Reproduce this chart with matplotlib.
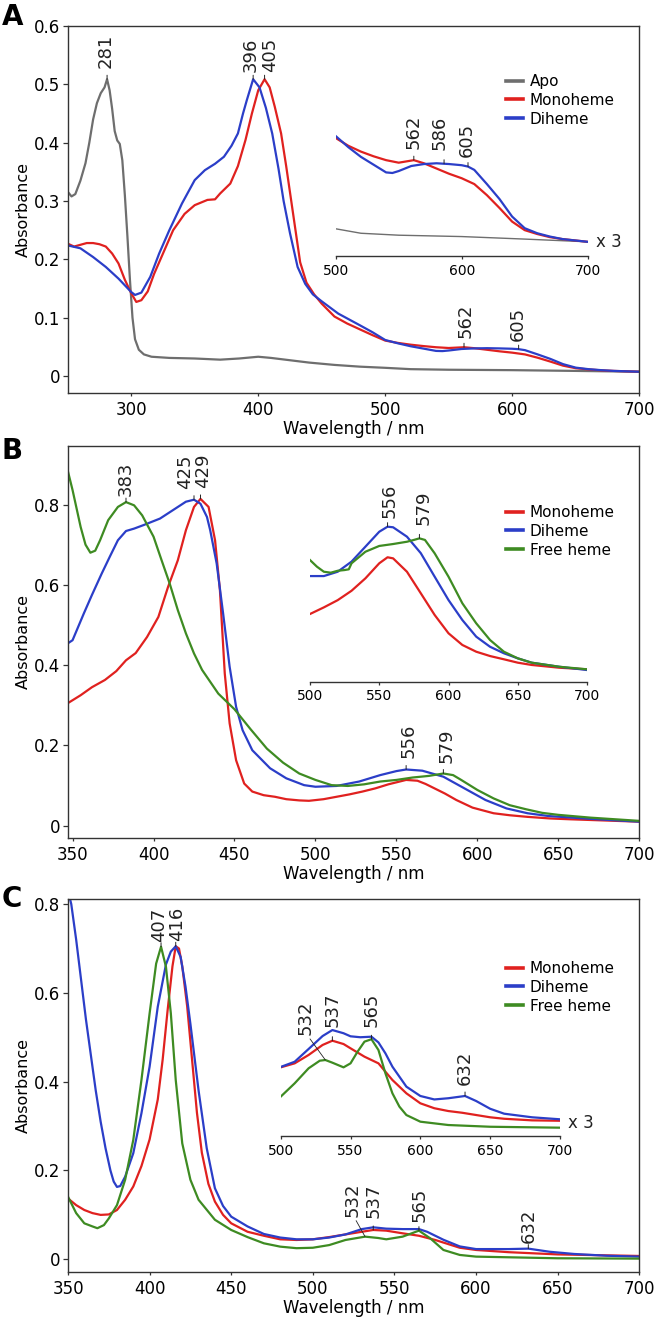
import numpy as np
import matplotlib
matplotlib.use('Agg')
import matplotlib.pyplot as plt

plt.rcParams['font.family'] = ['DejaVu Sans']

RED = '#E0211F'
BLUE = '#2B3EC8'
GREEN = '#3E8B22'
GRAY = '#6E6E6E'
INK = '#222222'

# ---- panel A: apo / monoheme / diheme ----
apo_a_nm = [250, 253, 256, 260, 264, 267, 270, 273, 276, 279, 281, 283, 285, 287, 289, 291, 293,
            295, 297, 299, 301, 303, 306, 310, 316, 330, 350, 370, 385, 400, 410, 425, 440, 460,
            480, 500, 520, 550, 600, 650, 700]
apo_a = [0.316, 0.308, 0.312, 0.335, 0.365, 0.40, 0.44, 0.468, 0.485, 0.495, 0.509, 0.49, 0.458,
         0.42, 0.404, 0.398, 0.37, 0.31, 0.24, 0.165, 0.10, 0.063, 0.045, 0.037, 0.033, 0.031,
         0.030, 0.028, 0.030, 0.033, 0.031, 0.027, 0.023, 0.019, 0.016, 0.014, 0.0117, 0.0107,
         0.010, 0.0087, 0.0073]

mono_a_nm = [250, 255, 260, 265, 270, 275, 280, 285, 290, 295, 300, 304, 308, 313, 318, 326, 333,
             342, 350, 360, 366, 370, 378, 384, 390, 395, 400, 405, 409, 413, 418, 422, 426, 429,
             433, 438, 444, 450, 460, 470, 480, 490, 500, 510, 520, 530, 540, 550, 562, 570, 580,
             590, 600, 610, 620, 630, 640, 650, 660, 670, 680, 690, 700]
mono_a = [0.227, 0.222, 0.225, 0.228, 0.228, 0.226, 0.222, 0.21, 0.193, 0.165, 0.142, 0.127, 0.13,
          0.145, 0.175, 0.215, 0.25, 0.278, 0.293, 0.302, 0.303, 0.313, 0.33, 0.36, 0.405, 0.45,
          0.49, 0.509, 0.495, 0.462, 0.416, 0.36, 0.30, 0.255, 0.195, 0.16, 0.14, 0.124, 0.102,
          0.090, 0.080, 0.070, 0.0607, 0.0567, 0.0537, 0.0513, 0.0493, 0.048, 0.0493, 0.0477,
          0.045, 0.0423, 0.040, 0.037, 0.0313, 0.0247, 0.0177, 0.0133, 0.0113, 0.0097, 0.0087,
          0.008, 0.0073]

di_a_nm = [250, 260, 270, 280, 290, 300, 303, 308, 315, 322, 330, 340, 350, 358, 366, 373, 379,
           384, 388, 391, 396, 401, 406, 411, 416, 420, 425, 431, 437, 443, 450, 463, 480, 490, 500,
           510, 520, 530, 540, 545, 550, 560, 570, 580, 590, 600, 605, 610, 620, 630, 640, 650, 660,
           670, 680, 690, 700]
di_a = [0.224, 0.219, 0.204, 0.187, 0.167, 0.144, 0.139, 0.143, 0.17, 0.21, 0.25, 0.296, 0.336,
        0.353, 0.364, 0.376, 0.395, 0.416, 0.45, 0.473, 0.509, 0.495, 0.46, 0.416, 0.355, 0.30,
        0.245, 0.187, 0.158, 0.14, 0.128, 0.107, 0.087, 0.075, 0.0617, 0.056, 0.051, 0.047, 0.043,
        0.0427, 0.0437, 0.0463, 0.0473, 0.0477, 0.0473, 0.0467, 0.046, 0.0443, 0.037, 0.0293,
        0.0203, 0.0143, 0.0117, 0.010, 0.0087, 0.008, 0.0073]

# ---- panel B: monoheme / diheme / free heme ----
mono_b_nm = [347, 355, 362, 370, 377, 383, 389, 396, 403, 409, 415, 420, 425, 429, 434, 438, 441,
             444, 447, 451, 456, 461, 468, 475, 482, 490, 496, 505, 513, 521, 529, 537, 545, 550,
             556, 563, 568, 573, 580, 587, 597, 610, 620, 631, 645, 657, 700]
mono_b = [0.305, 0.325, 0.345, 0.363, 0.385, 0.412, 0.43, 0.47, 0.52, 0.595, 0.661, 0.736, 0.794,
          0.814, 0.794, 0.711, 0.587, 0.379, 0.255, 0.163, 0.105, 0.085, 0.076, 0.072, 0.066,
          0.063, 0.062, 0.066, 0.072, 0.078, 0.085, 0.093, 0.103, 0.108, 0.114, 0.112, 0.104,
          0.094, 0.08, 0.064, 0.045, 0.031, 0.026, 0.022, 0.018, 0.016, 0.010]

di_b_nm = [347, 350, 357, 362, 368, 373, 378, 383, 388, 394, 404, 412, 420, 425, 429, 433, 435,
           439, 443, 447, 451, 455, 461, 472, 482, 493, 500, 513, 527, 540, 550, 556, 566, 579, 592,
           605, 618, 631, 644, 670, 700]
di_b = [0.454, 0.462, 0.529, 0.575, 0.628, 0.67, 0.711, 0.734, 0.74, 0.749, 0.765, 0.786, 0.807,
        0.812, 0.802, 0.769, 0.736, 0.653, 0.528, 0.396, 0.296, 0.238, 0.188, 0.143, 0.118, 0.101,
        0.097, 0.099, 0.11, 0.126, 0.136, 0.140, 0.137, 0.122, 0.093, 0.064, 0.043, 0.031, 0.024,
        0.017, 0.010]

free_b_nm = [347, 350, 355, 358, 361, 364, 367, 372, 378, 383, 388, 393, 400, 405, 410, 415, 420,
             425, 430, 440, 450, 460, 470, 480, 490, 500, 510, 520, 530, 540, 550, 560, 570, 579,
             585, 590, 600, 610, 620, 630, 640, 650, 670, 700]
free_b = [0.885, 0.836, 0.744, 0.70, 0.68, 0.685, 0.711, 0.761, 0.794, 0.806, 0.798, 0.773, 0.72,
          0.661, 0.603, 0.537, 0.479, 0.429, 0.388, 0.329, 0.29, 0.24, 0.192, 0.157, 0.13, 0.114,
          0.101, 0.099, 0.103, 0.110, 0.114, 0.12, 0.124, 0.130, 0.126, 0.114, 0.089, 0.068, 0.051,
          0.041, 0.032, 0.027, 0.020, 0.012]

# inset B (Q-band region, drawn with a 3x finer y scale)
ins_b_mono_nm = [500, 510, 520, 530, 540, 550, 556, 560, 570, 580, 590, 600, 610, 620, 630, 640,
                 650, 660, 680, 700]
ins_b_mono = [0.0675, 0.073, 0.079, 0.0868, 0.0971, 0.1096, 0.1146, 0.1137, 0.1026, 0.0847, 0.0667,
              0.0515, 0.0418, 0.0362, 0.0326, 0.0299, 0.0271, 0.0252, 0.0229, 0.0216]
ins_b_di_nm = [500, 510, 520, 530, 540, 550, 556, 560, 570, 580, 590, 600, 610, 620, 630, 640, 650,
               660, 680, 700]
ins_b_di = [0.099, 0.099, 0.1026, 0.111, 0.1234, 0.1358, 0.140, 0.1395, 0.1317, 0.118, 0.0985,
            0.0791, 0.0625, 0.0487, 0.0403, 0.0349, 0.0307, 0.0271, 0.0237, 0.021]
ins_b_free_nm = [500, 505, 510, 515, 520, 525, 528, 530, 540, 550, 560, 570, 575, 579, 583, 590,
                 600, 610, 620, 630, 640, 650, 660, 680, 700]
ins_b_free = [0.1123, 0.1068, 0.1026, 0.1018, 0.1034, 0.104, 0.1046, 0.1096, 0.1192, 0.124, 0.1256,
              0.1275, 0.129, 0.1303, 0.129, 0.1179, 0.0985, 0.0764, 0.0598, 0.0459, 0.0362, 0.0307,
              0.0271, 0.0237, 0.0216]

# ---- panel C: monoheme / diheme / free heme ----
mono_c_nm = [350, 355, 360, 365, 370, 375, 380, 385, 390, 395, 400, 405, 408, 411, 414, 416, 418,
             420, 423, 426, 429, 432, 436, 440, 445, 450, 460, 470, 480, 490, 500, 510, 520, 530,
             537, 545, 555, 565, 575, 590, 600, 620, 650, 700]
mono_c = [0.137, 0.122, 0.111, 0.104, 0.10, 0.101, 0.111, 0.134, 0.164, 0.21, 0.27, 0.36, 0.45,
          0.56, 0.66, 0.705, 0.70, 0.66, 0.57, 0.45, 0.33, 0.24, 0.17, 0.13, 0.10, 0.081, 0.062,
          0.053, 0.045, 0.0435, 0.045, 0.05, 0.056, 0.062, 0.066, 0.0645, 0.0585, 0.053, 0.0435,
          0.026, 0.021, 0.016, 0.011, 0.0075]

di_c_nm = [350, 352, 355, 358, 361, 364, 367, 370, 373, 376, 378, 380, 382, 385, 390, 395, 400,
           405, 410, 413, 416, 419, 422, 425, 430, 435, 440, 445, 450, 460, 470, 480, 490, 500, 510,
           520, 530, 537, 545, 555, 565, 570, 580, 590, 600, 620, 632, 645, 660, 680, 700]
di_c = [0.83, 0.80, 0.72, 0.63, 0.54, 0.46, 0.38, 0.31, 0.25, 0.20, 0.175, 0.163, 0.165, 0.186,
        0.239, 0.329, 0.434, 0.569, 0.664, 0.693, 0.705, 0.681, 0.614, 0.53, 0.38, 0.25, 0.16,
        0.12, 0.096, 0.074, 0.057, 0.049, 0.045, 0.045, 0.049, 0.056, 0.068, 0.072, 0.069, 0.068,
        0.068, 0.062, 0.044, 0.029, 0.023, 0.023, 0.024, 0.017, 0.012, 0.008, 0.006]

free_c_nm = [350, 355, 360, 365, 368, 372, 375, 380, 385, 390, 395, 400, 404, 407, 410, 413, 416,
             420, 425, 430, 440, 450, 460, 470, 480, 490, 500, 510, 520, 532, 540, 545, 555, 565,
             572, 580, 590, 600, 650, 700]
free_c = [0.141, 0.104, 0.081, 0.074, 0.07, 0.077, 0.092, 0.122, 0.179, 0.269, 0.404, 0.554, 0.666,
          0.704, 0.659, 0.554, 0.404, 0.261, 0.179, 0.134, 0.089, 0.066, 0.05, 0.036, 0.0285,
          0.025, 0.026, 0.032, 0.0435, 0.051, 0.048, 0.045, 0.051, 0.0645, 0.047, 0.021, 0.0098,
          0.006, 0.0023, 0.0015]

# inset C (x 3)
ins_c_mono_nm = [500, 510, 520, 530, 537, 545, 550, 560, 570, 575, 580, 590, 600, 610, 620, 630,
                 640, 650, 660, 680, 700]
ins_c_mono = [0.0583, 0.0613, 0.0676, 0.0751, 0.0783, 0.0758, 0.0726, 0.0663, 0.0613, 0.055,
              0.0488, 0.0388, 0.0313, 0.0276, 0.0255, 0.0242, 0.0225, 0.0208, 0.0197, 0.0185, 0.0182]
ins_c_di_nm = [500, 510, 520, 530, 537, 545, 550, 557, 565, 570, 575, 580, 590, 600, 610, 620, 632,
               640, 650, 660, 680, 700]
ins_c_di = [0.0586, 0.0625, 0.0721, 0.0818, 0.0863, 0.0839, 0.0816, 0.0809, 0.0813, 0.077, 0.0688,
            0.0588, 0.0438, 0.0368, 0.0342, 0.0351, 0.0368, 0.033, 0.0272, 0.0235, 0.0208, 0.0193]
ins_c_free_nm = [500, 510, 520, 528, 532, 537, 545, 550, 555, 560, 565, 570, 575, 580, 585, 590,
                 600, 620, 650, 700]
ins_c_free = [0.0363, 0.0463, 0.0576, 0.0633, 0.0638, 0.0618, 0.0583, 0.0613, 0.07, 0.0776, 0.0794,
              0.0713, 0.0538, 0.0388, 0.0288, 0.0225, 0.0175, 0.015, 0.0137, 0.013]

W, H = 662, 1324
fig = plt.figure(figsize=(W / 100, H / 100), dpi=100)


def px_axes(left, top, right, bottom):
    """Axes placed by pixel box (y measured from the top of the figure)."""
    return fig.add_axes([left / W, 1 - bottom / H, (right - left) / W, (bottom - top) / H])


def fmt_abs(v, pos):
    return '0' if abs(v) < 1e-9 else f'{v:.1f}'


def style_main(ax, xlim, ylim, xticks, yticks):
    ax.set_xlim(*xlim)
    ax.set_ylim(*ylim)
    ax.set_xticks(xticks)
    ax.set_yticks(yticks)
    ax.yaxis.set_major_formatter(plt.FuncFormatter(fmt_abs))
    for s in ax.spines.values():
        s.set_color('#333333')
        s.set_linewidth(1.0)
    ax.tick_params(axis='x', length=2.5, width=0.9, pad=3.3, labelsize=12, color='#333333')
    ax.tick_params(axis='y', length=3.6, width=0.9, pad=2, labelsize=12, color='#333333')
    ax.set_xlabel('Wavelength / nm', fontsize=12, labelpad=0.5)
    ax.set_ylabel('Absorbance', fontsize=11.5, labelpad=2)


def style_inset(ax, ylim, xticks):
    ax.set_xlim(500, 700)
    ax.set_ylim(*ylim)
    ax.patch.set_visible(False)
    for side in ['top', 'right', 'left']:
        ax.spines[side].set_visible(False)
    ax.spines['bottom'].set_color('#333333')
    ax.spines['bottom'].set_linewidth(1.0)
    ax.set_yticks([])
    ax.set_xticks(xticks)
    ax.tick_params(axis='x', length=2.5, width=0.9, pad=3, labelsize=10, color='#333333')


def add_legend(ax, handles, top_px):
    leg = ax.legend(handles=handles, loc='upper left', bbox_to_anchor=(506 / W, 1 - top_px / H),
                    bbox_transform=fig.transFigure, frameon=False, fontsize=11,
                    handlelength=1.1, handletextpad=0.45, labelspacing=0.25,
                    borderpad=0, borderaxespad=0)
    for h in leg.legend_handles:
        h.set_linewidth(2.6)


def mark(ax, nm, vals, x, lift, dx=0, lead=None, tick=4):
    """Rotated peak label above the curve point; a short tick or a leader line."""
    y = float(np.interp(x, nm, vals))
    if lead is None:
        ax.annotate('', xy=(x, y), xytext=(0, tick), textcoords='offset pixels',
                    arrowprops=dict(arrowstyle='-', color=INK, lw=0.7, shrinkA=0, shrinkB=0),
                    annotation_clip=False)
        ax.annotate(str(x), xy=(x, y), xytext=(dx, lift), textcoords='offset pixels',
                    rotation=90, ha='center', va='bottom', fontsize=13, color=INK,
                    annotation_clip=False)
    else:
        ax.annotate(str(x), xy=(x, y), xytext=(dx, lift), textcoords='offset pixels',
                    rotation=90, ha='center', va='bottom', fontsize=13, color=INK,
                    annotation_clip=False,
                    arrowprops=dict(arrowstyle='-', color=INK, lw=0.6, shrinkA=1, shrinkB=0,
                                    relpos=lead))


LW = 1.6

# ================= A =================
axA = px_axes(67.7, 25.7, 639.3, 393.3)
lA_apo, = axA.plot(apo_a_nm, apo_a, color=GRAY, lw=LW, label='Apo')
lA_mono, = axA.plot(mono_a_nm, mono_a, color=RED, lw=LW, label='Monoheme')
lA_di, = axA.plot(di_a_nm, di_a, color=BLUE, lw=LW, label='Diheme')
style_main(axA, (250, 700), (-0.0297, 0.6008), [300, 400, 500, 600, 700],
           [0, 0.1, 0.2, 0.3, 0.4, 0.5, 0.6])
add_legend(axA, [lA_apo, lA_mono, lA_di], 74)
mark(axA, apo_a_nm, apo_a, 281, 11, dx=-1.5)
mark(axA, di_a_nm, di_a, 396, 7, dx=-2)
mark(axA, mono_a_nm, mono_a, 405, 7, dx=5)
mark(axA, mono_a_nm, mono_a, 562, 9, dx=2)
mark(axA, di_a_nm, di_a, 605, 8, dx=-1)

# inset A: the same spectra, 500-700 nm, magnified
insA = px_axes(335.7, 96, 587.7, 256)
for nm, vals, c, lw in [(apo_a_nm, apo_a, GRAY, 1.0), (mono_a_nm, mono_a, RED, LW),
                        (di_a_nm, di_a, BLUE, LW)]:
    nm = np.asarray(nm)
    vals = np.asarray(vals)
    keep = nm >= 500
    insA.plot(nm[keep], vals[keep], color=c, lw=lw)
style_inset(insA, (0, 160 / 1944), [500, 600, 700])
mark(insA, mono_a_nm, mono_a, 562, 11)
mark(insA, di_a_nm, di_a, 586, 14, dx=-4)
mark(insA, di_a_nm, di_a, 605, 10, dx=-1)
insA.annotate('x 3', xy=(700, apo_a[-1]), xytext=(8, 0), textcoords='offset pixels',
              va='center', ha='left', fontsize=12, color=INK, annotation_clip=False)

# ================= B =================
axB = px_axes(67.7, 445.7, 639.3, 838.3)
lB_mono, = axB.plot(mono_b_nm, mono_b, color=RED, lw=LW, label='Monoheme')
lB_di, = axB.plot(di_b_nm, di_b, color=BLUE, lw=LW, label='Diheme')
lB_free, = axB.plot(free_b_nm, free_b, color=GREEN, lw=LW, label='Free heme')
style_main(axB, (347, 700), (-0.0314, 0.9465), [350, 400, 450, 500, 550, 600, 650, 700],
           [0, 0.2, 0.4, 0.6, 0.8])
add_legend(axB, [lB_mono, lB_di, lB_free], 505)
mark(axB, free_b_nm, free_b, 383, 6)
mark(axB, di_b_nm, di_b, 425, 11, dx=-9)
mark(axB, mono_b_nm, mono_b, 429, 10.5, dx=3)
mark(axB, di_b_nm, di_b, 556, 11, dx=2)
mark(axB, free_b_nm, free_b, 579, 11, dx=3)

insB = px_axes(310, 490, 587, 681.7)
insB.plot(ins_b_mono_nm, ins_b_mono, color=RED, lw=LW)
insB.plot(ins_b_di_nm, ins_b_di, color=BLUE, lw=LW)
insB.plot(ins_b_free_nm, ins_b_free, color=GREEN, lw=LW)
style_inset(insB, (0.0113, 0.0113 + 191.7 / 1204.5), [500, 550, 600, 650, 700])
mark(insB, ins_b_di_nm, ins_b_di, 556, 8.5, dx=2)
mark(insB, ins_b_free_nm, ins_b_free, 579, 13, dx=4)

# ================= C =================
axC = px_axes(68, 899.3, 639.3, 1272.3)
lC_mono, = axC.plot(mono_c_nm, mono_c, color=RED, lw=LW, label='Monoheme')
lC_di, = axC.plot(di_c_nm, di_c, color=BLUE, lw=LW, label='Diheme')
lC_free, = axC.plot(free_c_nm, free_c, color=GREEN, lw=LW, label='Free heme')
style_main(axC, (350, 700), (-0.0293, 0.8108), [350, 400, 450, 500, 550, 600, 650, 700],
           [0, 0.2, 0.4, 0.6, 0.8])
add_legend(axC, [lC_mono, lC_di, lC_free], 961)
mark(axC, free_c_nm, free_c, 407, 5, dx=-1.5)
mark(axC, mono_c_nm, mono_c, 416, 5, dx=1.5)
mark(axC, free_c_nm, free_c, 532, 20, dx=-13, lead=(0.6, 0))
mark(axC, mono_c_nm, mono_c, 537, 12)
mark(axC, free_c_nm, free_c, 565, 9, dx=1)
mark(axC, di_c_nm, di_c, 632, 5.5)

insC = px_axes(280.7, 1006, 560, 1136)
insC.plot(ins_c_mono_nm, ins_c_mono, color=RED, lw=LW)
insC.plot(ins_c_di_nm, ins_c_di, color=BLUE, lw=LW)
insC.plot(ins_c_free_nm, ins_c_free, color=GREEN, lw=LW)
style_inset(insC, (9 / 1332, 9 / 1332 + 130 / 1332), [500, 550, 600, 650, 700])
mark(insC, ins_c_free_nm, ins_c_free, 532, 25, dx=-20, lead=(0.6, 0))
mark(insC, ins_c_mono_nm, ins_c_mono, 537, 14)
mark(insC, ins_c_free_nm, ins_c_free, 565, 12.5)
mark(insC, ins_c_di_nm, ins_c_di, 632, 11)
insC.annotate('x 3', xy=(700, ins_c_mono[-1]), xytext=(8, -2.5), textcoords='offset pixels',
              va='center', ha='left', fontsize=12, color=INK, annotation_clip=False)

# panel letters
for letter, base in [('A', 25), ('B', 458.5), ('C', 907)]:
    fig.text(2 / W, 1 - base / H, letter, fontsize=20, fontweight='bold', va='baseline', ha='left')

fig.savefig('out.png', dpi=100)
